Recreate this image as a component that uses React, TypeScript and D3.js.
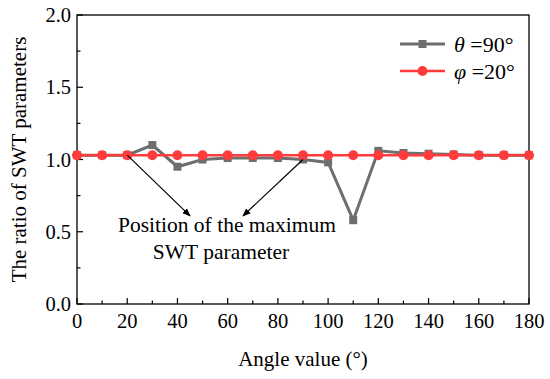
import React from 'react';
import * as d3 from 'd3';

// angles (deg) and the two series
const angles = [0, 10, 20, 30, 40, 50, 60, 70, 80, 90, 100, 110, 120, 130, 140, 150, 160, 170, 180];
const theta90 = [1.03, 1.03, 1.03, 1.1, 0.95, 1.0, 1.01, 1.01, 1.01, 1.0, 0.98, 0.58, 1.06, 1.045, 1.04, 1.035, 1.03, 1.03, 1.03];
const phi20 = [1.03, 1.03, 1.03, 1.03, 1.03, 1.03, 1.03, 1.03, 1.03, 1.03, 1.03, 1.03, 1.03, 1.03, 1.03, 1.03, 1.03, 1.03, 1.03];
const xTicks = [0, 20, 40, 60, 80, 100, 120, 140, 160, 180];
const yTicks = [0, 0.5, 1.0, 1.5, 2.0];
// arrows point at these two samples
const markedAngles = [20, 90];

const W = 550;
const H = 379;
const m = { left: 77, right: 21, top: 15, bottom: 75 };
const FONT = "'Liberation Serif', 'Times New Roman', serif";
const GRAY = '#6e6e6e';
const RED = '#ff3b3b';

export default function App() {
  const x = d3.scaleLinear().domain([0, 180]).range([m.left, W - m.right]);
  const y = d3.scaleLinear().domain([0, 2]).range([H - m.bottom, m.top]);

  const mk = (vals: number[]) =>
    d3.line<number>()
      .x((_, i) => x(angles[i]))
      .y((d) => y(d))(vals) as string;

  const minorX = d3.range(10, 180, 20);
  const minorY = [0.25, 0.75, 1.25, 1.75];

  const textX = 227;
  const textY = 232;

  return (
    <svg width={W} height={H} style={{ position: 'absolute', left: 0, top: 0, background: '#fff', fontFamily: FONT }}>
      <defs>
        <marker id="arr" viewBox="0 0 10 10" refX="9" refY="5" markerWidth="7" markerHeight="7" orient="auto">
          <path d="M0,1 L10,5 L0,9 z" fill="#000" />
        </marker>
      </defs>

      {/* frame */}
      <rect x={m.left} y={m.top} width={W - m.left - m.right} height={H - m.top - m.bottom} fill="none" stroke="#000" strokeWidth={1.3} />

      {/* x ticks */}
      {xTicks.map((t) => (
        <g key={'x' + t}>
          <line x1={x(t)} x2={x(t)} y1={y(0)} y2={y(0) - 6} stroke="#000" strokeWidth={1.2} />
          <text x={x(t)} y={y(0) + 24} textAnchor="middle" fontSize={20.5}>{t}</text>
        </g>
      ))}
      {minorX.map((t) => (
        <line key={'mx' + t} x1={x(t)} x2={x(t)} y1={y(0)} y2={y(0) - 3.5} stroke="#000" strokeWidth={1.2} />
      ))}

      {/* y ticks */}
      {yTicks.map((t) => (
        <g key={'y' + t}>
          <line x1={x(0)} x2={x(0) + 6} y1={y(t)} y2={y(t)} stroke="#000" strokeWidth={1.2} />
          <text x={x(0) - 6} y={y(t) + 7} textAnchor="end" fontSize={20.5}>{t.toFixed(1)}</text>
        </g>
      ))}
      {minorY.map((t) => (
        <line key={'my' + t} x1={x(0)} x2={x(0) + 3.5} y1={y(t)} y2={y(t)} stroke="#000" strokeWidth={1.2} />
      ))}

      {/* axis titles */}
      <text x={(m.left + W - m.right) / 2} y={H - 13} textAnchor="middle" fontSize={21}>Angle value (°)</text>
      <text transform={`translate(26,${(m.top + H - m.bottom) / 2}) rotate(-90)`} textAnchor="middle" fontSize={21}>The ratio of SWT parameters</text>

      {/* series θ=90° */}
      <path d={mk(theta90)} fill="none" stroke={GRAY} strokeWidth={3} />
      {theta90.map((v, i) => (
        <rect key={'s' + i} x={x(angles[i]) - 4} y={y(v) - 4} width={8} height={8} fill={GRAY} />
      ))}

      {/* series φ=20° */}
      <path d={mk(phi20)} fill="none" stroke={RED} strokeWidth={2.5} />
      {phi20.map((v, i) => (
        <circle key={'c' + i} cx={x(angles[i])} cy={y(v)} r={5} fill={RED} />
      ))}

      {/* annotation arrows */}
      {markedAngles.map((a, k) => {
        const i = angles.indexOf(a);
        const tx = k === 0 ? textX - 37 : textX + 16;
        return (
          <line key={'a' + a} x1={x(a)} y1={y(theta90[i])} x2={tx} y2={y(0.61)} stroke="#000" strokeWidth={1.2} markerEnd="url(#arr)" />
        );
      })}
      <text x={textX} y={textY} textAnchor="middle" fontSize={21.5}>Position of the maximum</text>
      <text x={textX - 6} y={textY + 27} textAnchor="middle" fontSize={21.5}>SWT parameter</text>

      {/* legend */}
      <g fontSize={22}>
        <line x1={400} x2={445} y1={44} y2={44} stroke={GRAY} strokeWidth={3} />
        <rect x={418.5} y={40} width={8} height={8} fill={GRAY} />
        <text x={454} y={52}><tspan fontStyle="italic">θ</tspan> =90°</text>
        <line x1={400} x2={445} y1={71} y2={71} stroke={RED} strokeWidth={2.5} />
        <circle cx={422.5} cy={71} r={5} fill={RED} />
        <text x={454} y={79}><tspan fontStyle="italic">φ</tspan> =20°</text>
      </g>
    </svg>
  );
}
